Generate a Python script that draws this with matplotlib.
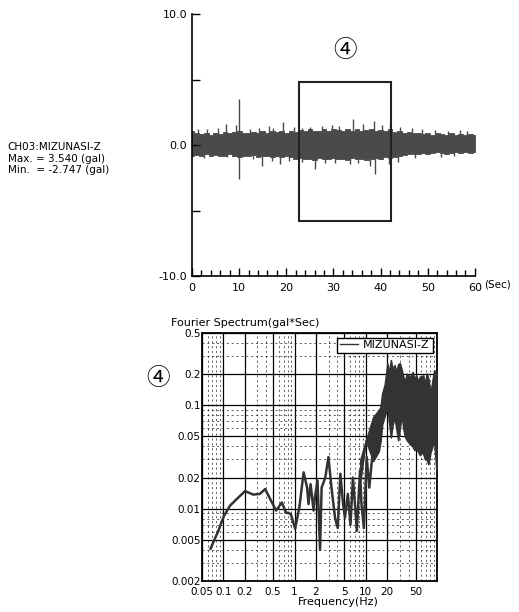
import numpy as np
import matplotlib.pyplot as plt
from matplotlib.patches import Rectangle
from matplotlib.ticker import FixedLocator, NullFormatter

plt.rcParams['font.family'] = ['DejaVu Sans', 'Noto Sans CJK JP']

# --- time history (gal), band envelope read every 1 sec + isolated spikes
env_t = list(range(0, 61))
env_hi = [1.1, 0.95, 0.85, 0.9, 0.8, 0.95, 0.85, 1.0, 0.9, 1.0, 1.1, 0.9, 0.95, 1.0, 0.9, 1.05,
          0.95, 1.1, 1.0, 1.05, 0.95, 1.1, 1.0, 1.15, 1.05, 1.2, 1.1, 1.05, 1.2, 1.1, 1.2,
          1.15, 1.05, 1.2, 1.1, 1.25, 1.1, 1.15, 1.2, 1.05, 1.15, 1.1, 1.2, 1.0, 1.1, 0.95, 1.0,
          0.9, 0.95, 0.85, 0.9, 0.8, 0.9, 0.85, 0.8, 0.9, 0.8, 0.85, 0.8, 0.85, 0.8]
env_lo = [-0.8, -0.75, -0.85, -0.7, -0.8, -0.75, -0.85, -0.8, -0.7, -0.85, -0.95, -0.8, -0.85, -0.75, -0.9, -0.8,
          -0.85, -0.95, -0.85, -0.9, -0.8, -0.95, -1.05, -1.0, -1.1, -1.05, -1.15, -1.0, -1.1, -1.05, -1.0,
          -1.1, -1.05, -1.15, -1.0, -1.1, -1.05, -1.15, -1.1, -1.0, -1.05, -0.95, -1.0, -0.9, -0.85, -0.75, -0.7,
          -0.65, -0.7, -0.6, -0.65, -0.6, -0.55, -0.6, -0.65, -0.6, -0.55, -0.6, -0.55, -0.6, -0.55]
spike_t = [1.2, 3.1, 5.6, 7.3, 9.4, 10.0, 12.4, 14.1, 16.4, 17.2, 19.4, 21.6, 23.3, 25.1, 27.5, 29.6,
           31.2, 34.2, 36.3, 38.6, 40.3, 42.0, 44.1, 46.6, 48.7, 51.5, 54.2, 56.8, 58.4,
           2.5, 7.4, 10.05, 12.9, 14.8, 16.9, 18.7, 20.5, 23.4, 26.1, 28.3, 30.4, 33.5, 35.1, 37.8, 38.8,
           41.7, 43.6, 47.2, 52.8, 55.6]
spike_v = [1.25, 1.2, 1.3, 1.64, 1.54, 3.54, 1.25, 1.3, 1.46, 1.3, 1.77, 1.35, 1.33, 1.4, 1.46, 1.5,
           1.45, 1.97, 1.64, 1.87, 1.5, 1.64, 1.4, 1.33, 1.2, 1.15, 1.1, 1.15, 1.05,
           -1.0, -0.95, -2.62, -1.1, -1.59, -1.2, -1.46, -1.2, -1.33, -1.85, -1.4, -1.35, -1.46, -1.4, -1.59, -2.23,
           -1.46, -1.3, -1.0, -0.9, -0.85]

# --- Fourier spectrum (gal*sec)
spec_f = [0.066, 0.085, 0.102, 0.124, 0.154, 0.202, 0.263, 0.326, 0.386, 0.455, 0.551, 0.663,
          0.759, 0.885, 1.02, 1.17, 1.34, 1.5, 1.57, 1.68, 1.85, 1.93, 2.1, 2.28, 2.4, 2.7, 2.99,
          3.3, 3.7, 4.04, 4.4, 4.8, 5.1, 5.6, 6.1, 6.6, 7.1, 7.5, 8.3, 8.7, 9.4, 10.3, 11.2, 12.7, 14.4]
spec_a = [0.0041, 0.0061, 0.0085, 0.0107, 0.0124, 0.0148, 0.0137, 0.0139, 0.0155, 0.0124, 0.0096, 0.0115,
          0.0092, 0.0089, 0.0064, 0.0104, 0.0225, 0.016, 0.0111, 0.0173, 0.0096, 0.0129, 0.0187, 0.0040, 0.016,
          0.020, 0.0316, 0.016, 0.0082, 0.0065, 0.0218, 0.0111, 0.0082, 0.0139, 0.007, 0.020, 0.0104, 0.0061,
          0.0235, 0.0111, 0.0065, 0.0316, 0.016, 0.039, 0.049]
band_f = [8.4, 10.0, 12.7, 15.2, 16.1, 17.0, 18.5, 20.1, 21.2, 22.5, 23.8, 25.3, 26.8, 28.5, 30.1, 32.0,
          33.6, 35.5, 37.7, 41.0, 45.5, 48.0, 51.0, 54.0, 57.5, 60.8, 64.0, 68.0, 71.8, 75.7, 80.8, 86.0,
          91.2, 98.0]
band_hi = [0.03, 0.045, 0.077, 0.09, 0.096, 0.13, 0.16, 0.254, 0.2, 0.274, 0.22, 0.245, 0.21, 0.25, 0.255,
           0.22, 0.189, 0.17, 0.203, 0.185, 0.21, 0.18, 0.195, 0.17, 0.19, 0.189, 0.195, 0.16, 0.203, 0.18,
           0.13, 0.17, 0.219, 0.2]
band_lo = [0.0187, 0.046, 0.029, 0.036, 0.045, 0.066, 0.08, 0.096, 0.07, 0.049, 0.065, 0.077, 0.06, 0.046,
           0.06, 0.083, 0.06, 0.05, 0.046, 0.043, 0.040, 0.037, 0.038, 0.036, 0.033, 0.035, 0.034, 0.03, 0.03,
           0.027, 0.035, 0.04, 0.046, 0.024]

ink = '#333333'
band = '#4a4a4a'

fig = plt.figure(figsize=(5.19, 6.12), dpi=100)

# ---------------- top: acceleration record
ax1 = fig.add_axes([0.370, 0.549, 0.545, 0.428])
ax1.fill_between(env_t, env_lo, env_hi, color=band, lw=0.6, edgecolor=band, step='mid')
ax1.vlines(spike_t, 0, spike_v, color=band, lw=1.0)
ax1.add_patch(Rectangle((22.7, -5.77), 19.5, 10.62, fill=False, ec='#222222', lw=1.5, zorder=5))
ax1.text(32.5, 7.2, '④', ha='center', va='center', fontsize=17,
         family=['Noto Sans CJK JP', 'DejaVu Sans'])
ax1.set_xlim(0, 60)
ax1.set_ylim(-10, 10)
ax1.spines['top'].set_visible(False)
ax1.spines['right'].set_visible(False)
for s in ax1.spines.values():
    s.set_linewidth(1.2)
ax1.set_yticks([-10, -5, 0, 5, 10])
ax1.set_yticklabels(['-10.0', '', '0.0', '', '10.0'])
ax1.set_xticks(range(0, 61, 10))
ax1.xaxis.set_minor_locator(FixedLocator(range(0, 61, 2)))
ax1.tick_params(axis='both', direction='in', labelsize=8, length=6, width=1)
ax1.tick_params(axis='x', which='minor', direction='in', length=4, width=1)
ax1.tick_params(axis='x', pad=5)
fig.text(0.958, 0.535, '(Sec)', ha='center', va='center', fontsize=7.5)

fig.text(0.015, 0.760, 'CH03:MIZUNASI-Z', fontsize=7.5, va='center')
fig.text(0.015, 0.741, 'Max. = 3.540 (gal)', fontsize=7.5, va='center')
fig.text(0.015, 0.722, 'Min.  = -2.747 (gal)', fontsize=7.5, va='center')

# ---------------- bottom: Fourier spectrum
ax2 = fig.add_axes([0.389, 0.0507, 0.453, 0.405])
ax2.set_xscale('log')
ax2.set_yscale('log')
ax2.set_xlim(0.05, 100)
ax2.set_ylim(0.002, 0.5)
ax2.grid(True, which='major', color='black', lw=0.9, ls='-')
ax2.grid(True, which='minor', color='#222222', lw=0.5, ls=(0, (3, 4)))
ax2.fill_between(band_f, band_lo, band_hi, color=ink, lw=1.2, edgecolor=ink, zorder=3)
ax2.plot(spec_f, spec_a, color=ink, lw=1.8, zorder=4, label='MIZUNASI-Z')

xt = [0.05, 0.1, 0.2, 0.5, 1, 2, 5, 10, 20, 50]
ax2.set_xticks(xt)
ax2.set_xticklabels(['0.05', '0.1', '0.2', '0.5', '1', '2', '5', '10', '20', '50'])
yt = [0.002, 0.005, 0.01, 0.02, 0.05, 0.1, 0.2, 0.5]
ax2.set_yticks(yt)
ax2.set_yticklabels(['0.002', '0.005', '0.01', '0.02', '0.05', '0.1', '0.2', '0.5'])
ax2.xaxis.set_minor_formatter(NullFormatter())
ax2.yaxis.set_minor_formatter(NullFormatter())
ax2.tick_params(axis='both', which='both', direction='in', labelsize=7.5, length=0)
ax2.tick_params(axis='x', pad=4)
ax2.tick_params(axis='y', pad=1)
for s in ax2.spines.values():
    s.set_linewidth(1.3)

leg = ax2.legend(loc='upper right', fontsize=8, frameon=True, fancybox=False,
                 handlelength=1.6, borderaxespad=0.4, borderpad=0.25, handletextpad=0.5)
leg.get_frame().set_edgecolor('black')
leg.get_frame().set_linewidth(1.0)
leg.get_frame().set_alpha(1)
for line in leg.get_lines():
    line.set_linewidth(1.0)

fig.text(0.33, 0.472, 'Fourier Spectrum(gal*Sec)', fontsize=8, va='center')
fig.text(0.651, 0.016, 'Frequency(Hz)', fontsize=8, ha='center', va='center')
fig.text(0.305, 0.382, '④', ha='center', va='center', fontsize=17,
         family=['Noto Sans CJK JP', 'DejaVu Sans'])

fig.savefig('out.png', dpi=100)
